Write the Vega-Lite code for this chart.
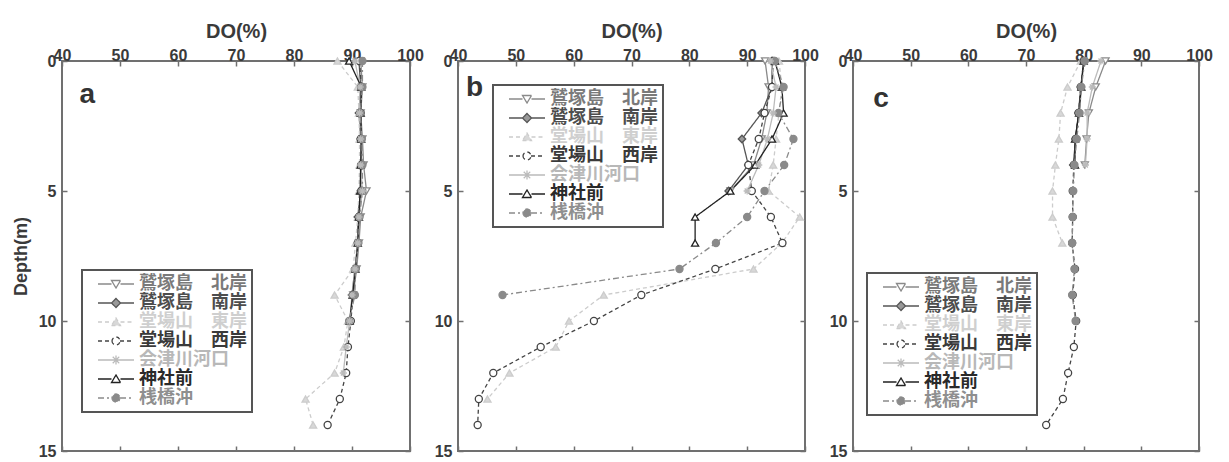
{
"$schema":"https://vega.github.io/schema/vega-lite/v6.json",
"background":"white",
"padding":{"left":11,"top":20,"right":5,"bottom":5},
"bounds":"flush",
"spacing":48,
"config":{
 "view":{"stroke":"#707070","strokeWidth":2},
 "font":"Liberation Sans",
 "axis":{"labelFont":"Liberation Sans","labelFontWeight":"bold","labelFontSize":16,"labelColor":"#3a3a3a","titleFont":"Liberation Sans","titleFontWeight":"bold","titleColor":"#3a3a3a","grid":false,"domain":false,"tickColor":"#707070","tickWidth":1.5,"labelOverlap":false,"labelFlush":false,"labelBound":false},
 "legend":{"labelFont":"Noto Sans CJK JP","labelFontWeight":"bold","labelFontSize":18,"labelLimit":300,"fillColor":"white","strokeColor":"#555555","strokeWidth":2,"padding":5,"symbolSize":100,"symbolStrokeWidth":1.3,"symbolOffset":20,"labelOffset":14,"rowPadding":1}
},
"datasets":{"prof":[
{"p":"a","s":"鷲塚島　北岸","d":0,"v":91.5},{"p":"a","s":"鷲塚島　北岸","d":1,"v":91.8},{"p":"a","s":"鷲塚島　北岸","d":2,"v":91.5},{"p":"a","s":"鷲塚島　北岸","d":3,"v":91.8},{"p":"a","s":"鷲塚島　北岸","d":4,"v":92},{"p":"a","s":"鷲塚島　北岸","d":5,"v":92.5},{"p":"a","s":"鷲塚島　北岸","d":6,"v":91.5},{"p":"a","s":"鷲塚島　北岸","d":7,"v":91.2},{"p":"a","s":"鷲塚島　北岸","d":8,"v":90.8},{"p":"a","s":"鷲塚島　北岸","d":9,"v":90.2},
{"p":"a","s":"鷲塚島　南岸","d":0,"v":91.2},{"p":"a","s":"鷲塚島　南岸","d":1,"v":91.5},{"p":"a","s":"鷲塚島　南岸","d":2,"v":91.2},{"p":"a","s":"鷲塚島　南岸","d":3,"v":91.5},{"p":"a","s":"鷲塚島　南岸","d":4,"v":91.6},{"p":"a","s":"鷲塚島　南岸","d":5,"v":91.5},{"p":"a","s":"鷲塚島　南岸","d":6,"v":91},{"p":"a","s":"鷲塚島　南岸","d":7,"v":91},{"p":"a","s":"鷲塚島　南岸","d":8,"v":90.5},{"p":"a","s":"鷲塚島　南岸","d":9,"v":90},
{"p":"a","s":"堂場山　東岸","d":0,"v":87.5},{"p":"a","s":"堂場山　東岸","d":1,"v":91},{"p":"a","s":"堂場山　東岸","d":2,"v":91.2},{"p":"a","s":"堂場山　東岸","d":3,"v":91.3},{"p":"a","s":"堂場山　東岸","d":4,"v":91.3},{"p":"a","s":"堂場山　東岸","d":5,"v":91.2},{"p":"a","s":"堂場山　東岸","d":6,"v":91},{"p":"a","s":"堂場山　東岸","d":7,"v":90.6},{"p":"a","s":"堂場山　東岸","d":8,"v":90.2},{"p":"a","s":"堂場山　東岸","d":9,"v":87},{"p":"a","s":"堂場山　東岸","d":10,"v":89.3},{"p":"a","s":"堂場山　東岸","d":11,"v":88.6},{"p":"a","s":"堂場山　東岸","d":12,"v":87},{"p":"a","s":"堂場山　東岸","d":13,"v":82},{"p":"a","s":"堂場山　東岸","d":14,"v":83.3},
{"p":"a","s":"堂場山　西岸","d":0,"v":91.3},{"p":"a","s":"堂場山　西岸","d":1,"v":91.6},{"p":"a","s":"堂場山　西岸","d":2,"v":91.5},{"p":"a","s":"堂場山　西岸","d":3,"v":91.5},{"p":"a","s":"堂場山　西岸","d":4,"v":91.6},{"p":"a","s":"堂場山　西岸","d":5,"v":91.6},{"p":"a","s":"堂場山　西岸","d":6,"v":91.2},{"p":"a","s":"堂場山　西岸","d":7,"v":91},{"p":"a","s":"堂場山　西岸","d":8,"v":90.6},{"p":"a","s":"堂場山　西岸","d":9,"v":90.2},{"p":"a","s":"堂場山　西岸","d":10,"v":89.8},{"p":"a","s":"堂場山　西岸","d":11,"v":89.3},{"p":"a","s":"堂場山　西岸","d":12,"v":89},{"p":"a","s":"堂場山　西岸","d":13,"v":87.9},{"p":"a","s":"堂場山　西岸","d":14,"v":85.8},
{"p":"a","s":"会津川河口","d":0,"v":90.5},{"p":"a","s":"会津川河口","d":1,"v":91.4},{"p":"a","s":"会津川河口","d":2,"v":91.3},{"p":"a","s":"会津川河口","d":3,"v":91.5},{"p":"a","s":"会津川河口","d":4,"v":91.5},{"p":"a","s":"会津川河口","d":5,"v":91.8},{"p":"a","s":"会津川河口","d":6,"v":91.2},{"p":"a","s":"会津川河口","d":7,"v":91},{"p":"a","s":"会津川河口","d":8,"v":90.5},{"p":"a","s":"会津川河口","d":9,"v":90},{"p":"a","s":"会津川河口","d":10,"v":89.6},{"p":"a","s":"会津川河口","d":11,"v":89},{"p":"a","s":"会津川河口","d":12,"v":88.5},
{"p":"a","s":"神社前","d":0,"v":89.5},{"p":"a","s":"神社前","d":1,"v":91.6},{"p":"a","s":"神社前","d":2,"v":91.5},{"p":"a","s":"神社前","d":3,"v":91.6},{"p":"a","s":"神社前","d":4,"v":91.5},{"p":"a","s":"神社前","d":5,"v":91.4},{"p":"a","s":"神社前","d":6,"v":91.2},{"p":"a","s":"神社前","d":7,"v":91},{"p":"a","s":"神社前","d":8,"v":90.6},{"p":"a","s":"神社前","d":9,"v":90.1},{"p":"a","s":"神社前","d":10,"v":89.6},
{"p":"a","s":"桟橋沖","d":0,"v":91.8},{"p":"a","s":"桟橋沖","d":1,"v":91.8},{"p":"a","s":"桟橋沖","d":2,"v":91.4},{"p":"a","s":"桟橋沖","d":3,"v":91.7},{"p":"a","s":"桟橋沖","d":4,"v":91.8},{"p":"a","s":"桟橋沖","d":5,"v":91.8},{"p":"a","s":"桟橋沖","d":6,"v":91.3},{"p":"a","s":"桟橋沖","d":7,"v":91.1},{"p":"a","s":"桟橋沖","d":8,"v":90.6},{"p":"a","s":"桟橋沖","d":9,"v":90.5},{"p":"a","s":"桟橋沖","d":10,"v":89.5},
{"p":"b","s":"鷲塚島　北岸","d":0,"v":93.1},{"p":"b","s":"鷲塚島　北岸","d":1,"v":93.7},{"p":"b","s":"鷲塚島　北岸","d":2,"v":93.4},{"p":"b","s":"鷲塚島　北岸","d":3,"v":92.5},{"p":"b","s":"鷲塚島　北岸","d":4,"v":91.1},{"p":"b","s":"鷲塚島　北岸","d":5,"v":87.1},
{"p":"b","s":"鷲塚島　南岸","d":0,"v":94.3},{"p":"b","s":"鷲塚島　南岸","d":1,"v":94.3},{"p":"b","s":"鷲塚島　南岸","d":2,"v":92.5},{"p":"b","s":"鷲塚島　南岸","d":3,"v":89.1},{"p":"b","s":"鷲塚島　南岸","d":4,"v":90.2},{"p":"b","s":"鷲塚島　南岸","d":5,"v":86.8},
{"p":"b","s":"堂場山　東岸","d":0,"v":95.5},{"p":"b","s":"堂場山　東岸","d":1,"v":96},{"p":"b","s":"堂場山　東岸","d":2,"v":95.5},{"p":"b","s":"堂場山　東岸","d":3,"v":95},{"p":"b","s":"堂場山　東岸","d":4,"v":94.5},{"p":"b","s":"堂場山　東岸","d":5,"v":93.7},{"p":"b","s":"堂場山　東岸","d":6,"v":99.1},{"p":"b","s":"堂場山　東岸","d":7,"v":96},{"p":"b","s":"堂場山　東岸","d":8,"v":91.1},{"p":"b","s":"堂場山　東岸","d":9,"v":65.2},{"p":"b","s":"堂場山　東岸","d":10,"v":59.2},{"p":"b","s":"堂場山　東岸","d":11,"v":56.9},{"p":"b","s":"堂場山　東岸","d":12,"v":48.9},{"p":"b","s":"堂場山　東岸","d":13,"v":45.1},
{"p":"b","s":"堂場山　西岸","d":0,"v":94.5},{"p":"b","s":"堂場山　西岸","d":1,"v":94.3},{"p":"b","s":"堂場山　西岸","d":2,"v":93},{"p":"b","s":"堂場山　西岸","d":3,"v":92},{"p":"b","s":"堂場山　西岸","d":4,"v":90.2},{"p":"b","s":"堂場山　西岸","d":5,"v":90.8},{"p":"b","s":"堂場山　西岸","d":6,"v":94.1},{"p":"b","s":"堂場山　西岸","d":7,"v":96.1},{"p":"b","s":"堂場山　西岸","d":8,"v":84.5},{"p":"b","s":"堂場山　西岸","d":9,"v":71.7},{"p":"b","s":"堂場山　西岸","d":10,"v":63.5},{"p":"b","s":"堂場山　西岸","d":11,"v":54.3},{"p":"b","s":"堂場山　西岸","d":12,"v":46.1},{"p":"b","s":"堂場山　西岸","d":13,"v":43.6},{"p":"b","s":"堂場山　西岸","d":14,"v":43.4},
{"p":"b","s":"会津川河口","d":0,"v":94},{"p":"b","s":"会津川河口","d":1,"v":95},{"p":"b","s":"会津川河口","d":2,"v":94.5},{"p":"b","s":"会津川河口","d":3,"v":93.5},{"p":"b","s":"会津川河口","d":4,"v":92},{"p":"b","s":"会津川河口","d":5,"v":90},
{"p":"b","s":"神社前","d":0,"v":94.8},{"p":"b","s":"神社前","d":1,"v":96},{"p":"b","s":"神社前","d":2,"v":96.3},{"p":"b","s":"神社前","d":3,"v":94.3},{"p":"b","s":"神社前","d":4,"v":91.4},{"p":"b","s":"神社前","d":5,"v":87.1},{"p":"b","s":"神社前","d":6,"v":81},{"p":"b","s":"神社前","d":7,"v":81},
{"p":"b","s":"桟橋沖","d":0,"v":94.8},{"p":"b","s":"桟橋沖","d":1,"v":96.3},{"p":"b","s":"桟橋沖","d":2,"v":95.4},{"p":"b","s":"桟橋沖","d":3,"v":98},{"p":"b","s":"桟橋沖","d":4,"v":96.4},{"p":"b","s":"桟橋沖","d":5,"v":93},{"p":"b","s":"桟橋沖","d":6,"v":90},{"p":"b","s":"桟橋沖","d":7,"v":84.6},{"p":"b","s":"桟橋沖","d":8,"v":78.3},{"p":"b","s":"桟橋沖","d":9,"v":47.7},
{"p":"c","s":"鷲塚島　北岸","d":0,"v":83.8},{"p":"c","s":"鷲塚島　北岸","d":1,"v":82.1},{"p":"c","s":"鷲塚島　北岸","d":2,"v":80.9},{"p":"c","s":"鷲塚島　北岸","d":3,"v":80.5},{"p":"c","s":"鷲塚島　北岸","d":4,"v":80.2},
{"p":"c","s":"鷲塚島　南岸","d":0,"v":80},{"p":"c","s":"鷲塚島　南岸","d":1,"v":79.5},{"p":"c","s":"鷲塚島　南岸","d":2,"v":79.1},{"p":"c","s":"鷲塚島　南岸","d":3,"v":78.6},{"p":"c","s":"鷲塚島　南岸","d":4,"v":78.2},
{"p":"c","s":"堂場山　東岸","d":0,"v":79.5},{"p":"c","s":"堂場山　東岸","d":1,"v":77.2},{"p":"c","s":"堂場山　東岸","d":2,"v":76},{"p":"c","s":"堂場山　東岸","d":3,"v":75.7},{"p":"c","s":"堂場山　東岸","d":4,"v":75.1},{"p":"c","s":"堂場山　東岸","d":5,"v":74.6},{"p":"c","s":"堂場山　東岸","d":6,"v":74.6},{"p":"c","s":"堂場山　東岸","d":7,"v":76.3},
{"p":"c","s":"堂場山　西岸","d":0,"v":80},{"p":"c","s":"堂場山　西岸","d":1,"v":79.5},{"p":"c","s":"堂場山　西岸","d":2,"v":79.1},{"p":"c","s":"堂場山　西岸","d":3,"v":78.6},{"p":"c","s":"堂場山　西岸","d":4,"v":78.3},{"p":"c","s":"堂場山　西岸","d":5,"v":78.1},{"p":"c","s":"堂場山　西岸","d":6,"v":78.1},{"p":"c","s":"堂場山　西岸","d":7,"v":78},{"p":"c","s":"堂場山　西岸","d":8,"v":78.5},{"p":"c","s":"堂場山　西岸","d":9,"v":78.1},{"p":"c","s":"堂場山　西岸","d":10,"v":78.7},{"p":"c","s":"堂場山　西岸","d":11,"v":78.3},{"p":"c","s":"堂場山　西岸","d":12,"v":77.3},{"p":"c","s":"堂場山　西岸","d":13,"v":76.4},{"p":"c","s":"堂場山　西岸","d":14,"v":73.5},
{"p":"c","s":"会津川河口","d":0,"v":83},{"p":"c","s":"会津川河口","d":1,"v":81.5},{"p":"c","s":"会津川河口","d":2,"v":80.6},{"p":"c","s":"会津川河口","d":3,"v":80.6},{"p":"c","s":"会津川河口","d":4,"v":80.3},
{"p":"c","s":"神社前","d":0,"v":80},{"p":"c","s":"神社前","d":1,"v":79.6},{"p":"c","s":"神社前","d":2,"v":79.2},{"p":"c","s":"神社前","d":3,"v":78.5},{"p":"c","s":"神社前","d":4,"v":78.5},
{"p":"c","s":"桟橋沖","d":0,"v":80.2},{"p":"c","s":"桟橋沖","d":1,"v":79.6},{"p":"c","s":"桟橋沖","d":2,"v":79.3},{"p":"c","s":"桟橋沖","d":3,"v":78.8},{"p":"c","s":"桟橋沖","d":4,"v":78.4},{"p":"c","s":"桟橋沖","d":5,"v":78.2},{"p":"c","s":"桟橋沖","d":6,"v":78.1},{"p":"c","s":"桟橋沖","d":7,"v":78},{"p":"c","s":"桟橋沖","d":8,"v":78.4},{"p":"c","s":"桟橋沖","d":9,"v":78},{"p":"c","s":"桟橋沖","d":10,"v":78.6}
]},
"hconcat":[
{"width":348,"height":390,
 "data":{"name":"prof"},
 "transform":[{"filter":"datum.p==='a'"}],
 "encoding":{
  "x":{"field":"v","type":"quantitative","scale":{"domain":[40,100],"nice":false,"zero":false},"axis":null},
  "y":{"field":"d","type":"quantitative","scale":{"domain":[0,15],"reverse":true,"nice":false,"zero":false},"axis":null}},
 "layer":[
  {"mark":{"type":"line","strokeWidth":1.3},
   "encoding":{
    "x":{"field":"v","type":"quantitative","scale":{"domain":[40,100],"nice":false,"zero":false},"axis":{"orient":"top","title":"DO(%)","titleFontSize":20,"titlePadding":6,"values":[40,50,60,70,80,90,100],"tickSize":-5,"labelPadding":3}},
    "y":{"field":"d","type":"quantitative","scale":{"domain":[0,15],"reverse":true,"nice":false,"zero":false},"axis":{"orient":"left","title":"Depth(m)","titleFontSize":18,"titlePadding":8,"values":[0,5,10,15],"tickSize":-5,"labelPadding":11}},
    "stroke":{"field":"s","type":"nominal","title":null,"scale":{"domain":["鷲塚島　北岸","鷲塚島　南岸","堂場山　東岸","堂場山　西岸","会津川河口","神社前","桟橋沖"],"range":["#8a8a8a","#555555","#cccccc","#444444","#bbbbbb","#222222","#8a8a8a"]}},
    "strokeDash":{"field":"s","type":"nominal","title":null,"scale":{"domain":["鷲塚島　北岸","鷲塚島　南岸","堂場山　東岸","堂場山　西岸","会津川河口","神社前","桟橋沖"],"range":[[1,0],[1,0],[4,3],[4,3],[1,0],[1,0],[6,3,2,3]]}},
    "order":{"field":"d","type":"quantitative"}}},
  {"encoding":{
    "stroke":{"field":"s","type":"nominal","title":null},
    "fill":{"field":"s","type":"nominal","title":null,"scale":{"domain":["鷲塚島　北岸","鷲塚島　南岸","堂場山　東岸","堂場山　西岸","会津川河口","神社前","桟橋沖"],"range":["#ffffff","#999999","#d8d8d8","#ffffff","transparent","#ffffff","#8a8a8a"]}}},
   "layer":[
    {"transform":[{"filter":"datum.s==='鷲塚島　北岸'"}],"mark":{"type":"point","shape":"triangle-down","size":50,"strokeWidth":1.3,"opacity":1,"filled":false}},
    {"transform":[{"filter":"datum.s==='鷲塚島　南岸'"}],"mark":{"type":"point","shape":"diamond","size":55,"strokeWidth":1.3,"opacity":1,"filled":false}},
    {"transform":[{"filter":"datum.s==='堂場山　東岸' || datum.s==='神社前'"}],"mark":{"type":"point","shape":"triangle-up","size":50,"strokeWidth":1.3,"opacity":1,"filled":false}},
    {"transform":[{"filter":"datum.s==='堂場山　西岸' || datum.s==='桟橋沖'"}],"mark":{"type":"point","shape":"circle","size":50,"strokeWidth":1.3,"opacity":1,"filled":false}},
    {"transform":[{"filter":"datum.s==='会津川河口'"}],"mark":{"type":"point","shape":"M-1,0H1M0,-1V1M-0.7,-0.7L0.7,0.7M-0.7,0.7L0.7,-0.7","size":50,"strokeWidth":1.3,"opacity":1,"filled":false}}
   ]},
  {"transform":[{"filter":"datum.d < 0"}],
   "mark":{"type":"point","size":50,"strokeWidth":1.3,"opacity":1,"filled":false},
   "encoding":{
    "x":{"field":"v","type":"quantitative","scale":{"domain":[40,100],"nice":false,"zero":false},"axis":{"orient":"bottom","title":null,"labels":false,"values":[40,50,60,70,80,90,100],"tickSize":-5}},
    "y":{"field":"d","type":"quantitative","scale":{"domain":[0,15],"reverse":true,"nice":false,"zero":false},"axis":{"orient":"right","title":null,"labels":false,"values":[0,5,10,15],"tickSize":-5}},
    "stroke":{"field":"s","type":"nominal","title":null},
    "fill":{"field":"s","type":"nominal","title":null},
    "strokeDash":{"field":"s","type":"nominal","title":null},
    "shape":{"field":"s","type":"nominal","title":null,"scale":{"domain":["鷲塚島　北岸","鷲塚島　南岸","堂場山　東岸","堂場山　西岸","会津川河口","神社前","桟橋沖"],"range":["M-3.6,0H-0.9M0.9,0H3.6M-0.9,-0.7L0.9,-0.7L0,0.8Z","M-3.6,0H-0.9M0.9,0H3.6M0,-0.9L0.9,0L0,0.9L-0.9,0Z","M-3.6,0H-0.9M0.9,0H3.6M-0.9,0.7L0.9,0.7L0,-0.8Z","M-3.6,0H-0.8M0.8,0H3.6M-0.8,0A0.8,0.8,0,1,0,0.8,0A0.8,0.8,0,1,0,-0.8,0Z","M-3.6,0H3.6M0,-0.9V0.9M-0.65,-0.65L0.65,0.65M-0.65,0.65L0.65,-0.65","M-3.6,0H-0.9M0.9,0H3.6M-0.9,0.7L0.9,0.7L0,-0.8Z","M-3.6,0H-0.8M0.8,0H3.6M-0.8,0A0.8,0.8,0,1,0,0.8,0A0.8,0.8,0,1,0,-0.8,0Z"]},
     "legend":{"title":null,"orient":"none","legendX":20,"legendY":209,"labelColor":{"expr":"['#7a7a7a','#4d4d4d','#cfcfcf','#3a3a3a','#b8b8b8','#2a2a2a','#8f8f8f'][indexof(['鷲塚島　北岸','鷲塚島　南岸','堂場山　東岸','堂場山　西岸','会津川河口','神社前','桟橋沖'],datum.value)]"}}}}},
  {"data":{"values":[{"p":"a","t":"a","v":43,"d":1.3}]},
   "mark":{"type":"text","font":"Liberation Sans","fontWeight":"bold","fontSize":28,"align":"left","baseline":"middle","color":"#333333"},
   "encoding":{"text":{"field":"t"}}}
 ],
 "resolve":{"axis":{"x":"independent","y":"independent"}}},
{"width":347,"height":390,
 "data":{"name":"prof"},
 "transform":[{"filter":"datum.p==='b'"}],
 "encoding":{
  "x":{"field":"v","type":"quantitative","scale":{"domain":[40,100],"nice":false,"zero":false},"axis":null},
  "y":{"field":"d","type":"quantitative","scale":{"domain":[0,15],"reverse":true,"nice":false,"zero":false},"axis":null}},
 "layer":[
  {"mark":{"type":"line","strokeWidth":1.3},
   "encoding":{
    "x":{"field":"v","type":"quantitative","scale":{"domain":[40,100],"nice":false,"zero":false},"axis":{"orient":"top","title":"DO(%)","titleFontSize":20,"titlePadding":6,"values":[40,50,60,70,80,90,100],"tickSize":-5,"labelPadding":3}},
    "y":{"field":"d","type":"quantitative","scale":{"domain":[0,15],"reverse":true,"nice":false,"zero":false},"axis":{"orient":"left","title":null,"values":[0,5,10,15],"tickSize":-5,"labelPadding":11}},
    "stroke":{"field":"s","type":"nominal","title":null,"scale":{"domain":["鷲塚島　北岸","鷲塚島　南岸","堂場山　東岸","堂場山　西岸","会津川河口","神社前","桟橋沖"],"range":["#8a8a8a","#555555","#cccccc","#444444","#bbbbbb","#222222","#8a8a8a"]}},
    "strokeDash":{"field":"s","type":"nominal","title":null,"scale":{"domain":["鷲塚島　北岸","鷲塚島　南岸","堂場山　東岸","堂場山　西岸","会津川河口","神社前","桟橋沖"],"range":[[1,0],[1,0],[4,3],[4,3],[1,0],[1,0],[6,3,2,3]]}},
    "order":{"field":"d","type":"quantitative"}}},
  {"encoding":{
    "stroke":{"field":"s","type":"nominal","title":null},
    "fill":{"field":"s","type":"nominal","title":null,"scale":{"domain":["鷲塚島　北岸","鷲塚島　南岸","堂場山　東岸","堂場山　西岸","会津川河口","神社前","桟橋沖"],"range":["#ffffff","#999999","#d8d8d8","#ffffff","transparent","#ffffff","#8a8a8a"]}}},
   "layer":[
    {"transform":[{"filter":"datum.s==='鷲塚島　北岸'"}],"mark":{"type":"point","shape":"triangle-down","size":50,"strokeWidth":1.3,"opacity":1,"filled":false}},
    {"transform":[{"filter":"datum.s==='鷲塚島　南岸'"}],"mark":{"type":"point","shape":"diamond","size":55,"strokeWidth":1.3,"opacity":1,"filled":false}},
    {"transform":[{"filter":"datum.s==='堂場山　東岸' || datum.s==='神社前'"}],"mark":{"type":"point","shape":"triangle-up","size":50,"strokeWidth":1.3,"opacity":1,"filled":false}},
    {"transform":[{"filter":"datum.s==='堂場山　西岸' || datum.s==='桟橋沖'"}],"mark":{"type":"point","shape":"circle","size":50,"strokeWidth":1.3,"opacity":1,"filled":false}},
    {"transform":[{"filter":"datum.s==='会津川河口'"}],"mark":{"type":"point","shape":"M-1,0H1M0,-1V1M-0.7,-0.7L0.7,0.7M-0.7,0.7L0.7,-0.7","size":50,"strokeWidth":1.3,"opacity":1,"filled":false}}
   ]},
  {"transform":[{"filter":"datum.d < 0"}],
   "mark":{"type":"point","size":50,"strokeWidth":1.3,"opacity":1,"filled":false},
   "encoding":{
    "x":{"field":"v","type":"quantitative","scale":{"domain":[40,100],"nice":false,"zero":false},"axis":{"orient":"bottom","title":null,"labels":false,"values":[40,50,60,70,80,90,100],"tickSize":-5}},
    "y":{"field":"d","type":"quantitative","scale":{"domain":[0,15],"reverse":true,"nice":false,"zero":false},"axis":{"orient":"right","title":null,"labels":false,"values":[0,5,10,15],"tickSize":-5}},
    "stroke":{"field":"s","type":"nominal","title":null},
    "fill":{"field":"s","type":"nominal","title":null},
    "strokeDash":{"field":"s","type":"nominal","title":null},
    "shape":{"field":"s","type":"nominal","title":null,"scale":{"domain":["鷲塚島　北岸","鷲塚島　南岸","堂場山　東岸","堂場山　西岸","会津川河口","神社前","桟橋沖"],"range":["M-3.6,0H-0.9M0.9,0H3.6M-0.9,-0.7L0.9,-0.7L0,0.8Z","M-3.6,0H-0.9M0.9,0H3.6M0,-0.9L0.9,0L0,0.9L-0.9,0Z","M-3.6,0H-0.9M0.9,0H3.6M-0.9,0.7L0.9,0.7L0,-0.8Z","M-3.6,0H-0.8M0.8,0H3.6M-0.8,0A0.8,0.8,0,1,0,0.8,0A0.8,0.8,0,1,0,-0.8,0Z","M-3.6,0H3.6M0,-0.9V0.9M-0.65,-0.65L0.65,0.65M-0.65,0.65L0.65,-0.65","M-3.6,0H-0.9M0.9,0H3.6M-0.9,0.7L0.9,0.7L0,-0.8Z","M-3.6,0H-0.8M0.8,0H3.6M-0.8,0A0.8,0.8,0,1,0,0.8,0A0.8,0.8,0,1,0,-0.8,0Z"]},
     "legend":{"title":null,"orient":"none","legendX":35,"legendY":24,"labelColor":{"expr":"['#7a7a7a','#4d4d4d','#cfcfcf','#3a3a3a','#b8b8b8','#2a2a2a','#8f8f8f'][indexof(['鷲塚島　北岸','鷲塚島　南岸','堂場山　東岸','堂場山　西岸','会津川河口','神社前','桟橋沖'],datum.value)]"}}}}},
  {"data":{"values":[{"p":"b","t":"b","v":41.4,"d":1.05}]},
   "mark":{"type":"text","font":"Liberation Sans","fontWeight":"bold","fontSize":28,"align":"left","baseline":"middle","color":"#333333"},
   "encoding":{"text":{"field":"t"}}}
 ],
 "resolve":{"axis":{"x":"independent","y":"independent"}}},
{"width":346,"height":390,
 "data":{"name":"prof"},
 "transform":[{"filter":"datum.p==='c'"}],
 "encoding":{
  "x":{"field":"v","type":"quantitative","scale":{"domain":[40,100],"nice":false,"zero":false},"axis":null},
  "y":{"field":"d","type":"quantitative","scale":{"domain":[0,15],"reverse":true,"nice":false,"zero":false},"axis":null}},
 "layer":[
  {"mark":{"type":"line","strokeWidth":1.3},
   "encoding":{
    "x":{"field":"v","type":"quantitative","scale":{"domain":[40,100],"nice":false,"zero":false},"axis":{"orient":"top","title":"DO(%)","titleFontSize":20,"titlePadding":6,"values":[40,50,60,70,80,90,100],"tickSize":-5,"labelPadding":3}},
    "y":{"field":"d","type":"quantitative","scale":{"domain":[0,15],"reverse":true,"nice":false,"zero":false},"axis":{"orient":"left","title":null,"values":[0,5,10,15],"tickSize":-5,"labelPadding":11}},
    "stroke":{"field":"s","type":"nominal","title":null,"scale":{"domain":["鷲塚島　北岸","鷲塚島　南岸","堂場山　東岸","堂場山　西岸","会津川河口","神社前","桟橋沖"],"range":["#8a8a8a","#555555","#cccccc","#444444","#bbbbbb","#222222","#8a8a8a"]}},
    "strokeDash":{"field":"s","type":"nominal","title":null,"scale":{"domain":["鷲塚島　北岸","鷲塚島　南岸","堂場山　東岸","堂場山　西岸","会津川河口","神社前","桟橋沖"],"range":[[1,0],[1,0],[4,3],[4,3],[1,0],[1,0],[6,3,2,3]]}},
    "order":{"field":"d","type":"quantitative"}}},
  {"encoding":{
    "stroke":{"field":"s","type":"nominal","title":null},
    "fill":{"field":"s","type":"nominal","title":null,"scale":{"domain":["鷲塚島　北岸","鷲塚島　南岸","堂場山　東岸","堂場山　西岸","会津川河口","神社前","桟橋沖"],"range":["#ffffff","#999999","#d8d8d8","#ffffff","transparent","#ffffff","#8a8a8a"]}}},
   "layer":[
    {"transform":[{"filter":"datum.s==='鷲塚島　北岸'"}],"mark":{"type":"point","shape":"triangle-down","size":50,"strokeWidth":1.3,"opacity":1,"filled":false}},
    {"transform":[{"filter":"datum.s==='鷲塚島　南岸'"}],"mark":{"type":"point","shape":"diamond","size":55,"strokeWidth":1.3,"opacity":1,"filled":false}},
    {"transform":[{"filter":"datum.s==='堂場山　東岸' || datum.s==='神社前'"}],"mark":{"type":"point","shape":"triangle-up","size":50,"strokeWidth":1.3,"opacity":1,"filled":false}},
    {"transform":[{"filter":"datum.s==='堂場山　西岸' || datum.s==='桟橋沖'"}],"mark":{"type":"point","shape":"circle","size":50,"strokeWidth":1.3,"opacity":1,"filled":false}},
    {"transform":[{"filter":"datum.s==='会津川河口'"}],"mark":{"type":"point","shape":"M-1,0H1M0,-1V1M-0.7,-0.7L0.7,0.7M-0.7,0.7L0.7,-0.7","size":50,"strokeWidth":1.3,"opacity":1,"filled":false}}
   ]},
  {"transform":[{"filter":"datum.d < 0"}],
   "mark":{"type":"point","size":50,"strokeWidth":1.3,"opacity":1,"filled":false},
   "encoding":{
    "x":{"field":"v","type":"quantitative","scale":{"domain":[40,100],"nice":false,"zero":false},"axis":{"orient":"bottom","title":null,"labels":false,"values":[40,50,60,70,80,90,100],"tickSize":-5}},
    "y":{"field":"d","type":"quantitative","scale":{"domain":[0,15],"reverse":true,"nice":false,"zero":false},"axis":{"orient":"right","title":null,"labels":false,"values":[0,5,10,15],"tickSize":-5}},
    "stroke":{"field":"s","type":"nominal","title":null},
    "fill":{"field":"s","type":"nominal","title":null},
    "strokeDash":{"field":"s","type":"nominal","title":null},
    "shape":{"field":"s","type":"nominal","title":null,"scale":{"domain":["鷲塚島　北岸","鷲塚島　南岸","堂場山　東岸","堂場山　西岸","会津川河口","神社前","桟橋沖"],"range":["M-3.6,0H-0.9M0.9,0H3.6M-0.9,-0.7L0.9,-0.7L0,0.8Z","M-3.6,0H-0.9M0.9,0H3.6M0,-0.9L0.9,0L0,0.9L-0.9,0Z","M-3.6,0H-0.9M0.9,0H3.6M-0.9,0.7L0.9,0.7L0,-0.8Z","M-3.6,0H-0.8M0.8,0H3.6M-0.8,0A0.8,0.8,0,1,0,0.8,0A0.8,0.8,0,1,0,-0.8,0Z","M-3.6,0H3.6M0,-0.9V0.9M-0.65,-0.65L0.65,0.65M-0.65,0.65L0.65,-0.65","M-3.6,0H-0.9M0.9,0H3.6M-0.9,0.7L0.9,0.7L0,-0.8Z","M-3.6,0H-0.8M0.8,0H3.6M-0.8,0A0.8,0.8,0,1,0,0.8,0A0.8,0.8,0,1,0,-0.8,0Z"]},
     "legend":{"title":null,"orient":"none","legendX":14,"legendY":212,"labelColor":{"expr":"['#7a7a7a','#4d4d4d','#cfcfcf','#3a3a3a','#b8b8b8','#2a2a2a','#8f8f8f'][indexof(['鷲塚島　北岸','鷲塚島　南岸','堂場山　東岸','堂場山　西岸','会津川河口','神社前','桟橋沖'],datum.value)]"}}}}},
  {"data":{"values":[{"p":"c","t":"c","v":43.5,"d":1.45}]},
   "mark":{"type":"text","font":"Liberation Sans","fontWeight":"bold","fontSize":28,"align":"left","baseline":"middle","color":"#333333"},
   "encoding":{"text":{"field":"t"}}}
 ],
 "resolve":{"axis":{"x":"independent","y":"independent"}}}
],
"resolve":{"scale":{"stroke":"independent","fill":"independent","shape":"independent","strokeDash":"independent"},"legend":{"stroke":"independent","fill":"independent","shape":"independent","strokeDash":"independent"}}
}
